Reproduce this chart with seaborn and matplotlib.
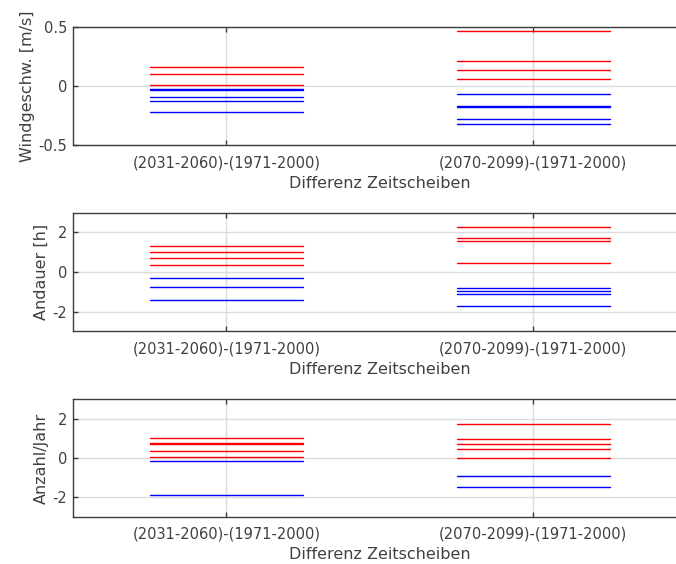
import numpy as np
import pandas as pd
import matplotlib
matplotlib.use("Agg")
import matplotlib.pyplot as plt
import seaborn as sns

# Time-slice differences (scenario period minus reference period 1971-2000)
periods = ["(2031-2060)-(1971-2000)", "(2070-2099)-(1971-2000)"]
x_label = "Differenz Zeitscheiben"

# Wind speed change [m/s], one value per model run
wind_2031 = [0.161, 0.099, 0.008, -0.027, -0.035, -0.091, -0.125, -0.218]
wind_2070 = [0.462, 0.211, 0.135, 0.059, -0.065, -0.168, -0.176, -0.276, -0.319]

# Duration change [h]
dauer_2031 = [1.33, 1.03, 0.72, 0.35, -0.32, -0.77, -1.43]
dauer_2070 = [2.28, 1.70, 1.55, 0.43, -0.80, -0.95, -1.13, -1.72]

# Events per year change
anzahl_2031 = [1.03, 0.77, 0.71, 0.35, 0.07, -0.17, -1.88]
anzahl_2070 = [1.70, 0.95, 0.73, 0.47, 0.02, -0.90, -1.48]

y_labels = ["Windgeschw. [m/s]", "Andauer [h]", "Anzahl/Jahr"]
y_ticks = [[-0.5, 0, 0.5], [-2, 0, 2], [-2, 0, 2]]
y_ticklabels = [["-0.5", "0", "0.5"], ["-2", "0", "2"], ["-2", "0", "2"]]
y_limits = [(-0.5, 0.5), (-3, 3), (-3, 3)]

panels = [
    (wind_2031, wind_2070),
    (dauer_2031, dauer_2070),
    (anzahl_2031, anzahl_2070),
]

sns.set_theme(style="white")
plt.rcParams["font.family"] = ["DejaVu Sans"]

text_color = "#404040"
spine_color = "#3c3c3c"
grid_color = "#dcdcdc"
half_width = 0.25

fig = plt.figure(figsize=(6.76, 5.64), dpi=100)

# axes rectangles [left, bottom, width, height] in figure fraction
rects = [
    [0.108, 0.7424, 0.908, 0.2098],
    [0.108, 0.4126, 0.908, 0.2103],
    [0.108, 0.0830, 0.908, 0.2098],
]


def segments(groups):
    rows = []
    seg = 0
    for pos, values in enumerate(groups, start=1):
        for v in values:
            sign = "pos" if v >= 0 else "neg"
            rows.append((pos - half_width, v, seg, sign))
            rows.append((pos + half_width, v, seg, sign))
            seg += 1
    return pd.DataFrame(rows, columns=["x", "y", "seg", "sign"])


for i, (groups, rect) in enumerate(zip(panels, rects)):
    ax = fig.add_axes(rect)
    df = segments(groups)
    sns.lineplot(
        data=df, x="x", y="y", units="seg", estimator=None,
        hue="sign", palette={"pos": "#ff0000", "neg": "#0000ff"},
        hue_order=["pos", "neg"], legend=False, linewidth=1.0, ax=ax,
    )
    ax.set_xlim(0.5, 2.5)
    ax.set_ylim(*y_limits[i])
    ax.set_xticks([1, 2])
    ax.set_xticklabels(periods)
    ax.set_yticks(y_ticks[i])
    ax.set_yticklabels(y_ticklabels[i])
    ax.grid(True, color=grid_color, linewidth=1.0)
    ax.set_axisbelow(True)
    for s in ax.spines.values():
        s.set_visible(True)
        s.set_color(spine_color)
        s.set_linewidth(1.0)
    ax.tick_params(axis="both", direction="in", length=3.5, width=1.0,
                   color=spine_color, labelcolor=text_color,
                   labelsize=10.5, top=True, right=True,
                   bottom=True, left=True)
    ax.tick_params(axis="x", pad=7)
    ax.tick_params(axis="y", pad=4)
    ax.set_xlabel(x_label, fontsize=11.5, color=text_color, labelpad=4)
    ax.set_ylabel(y_labels[i], fontsize=11.5, color=text_color, labelpad=3)

fig.savefig("out.png", dpi=100)
